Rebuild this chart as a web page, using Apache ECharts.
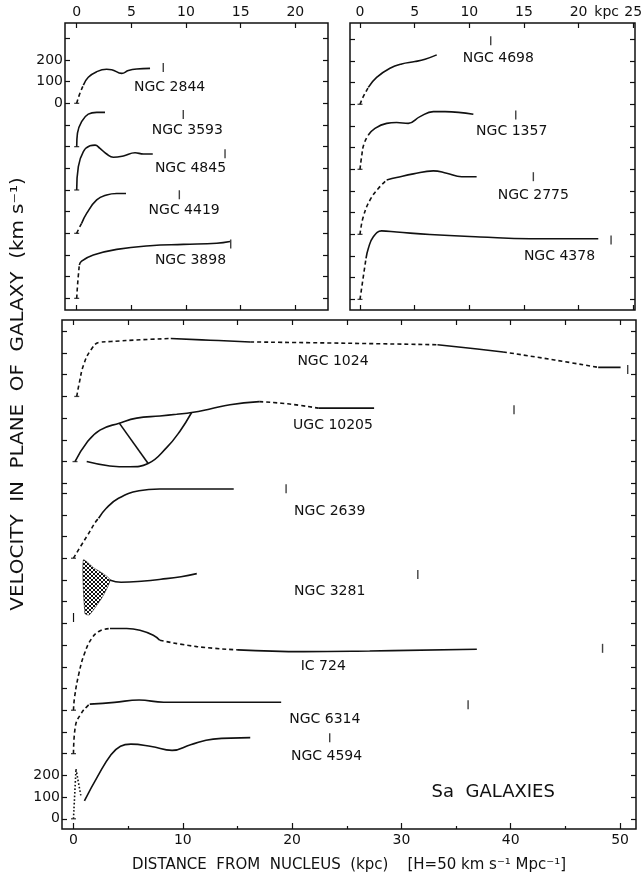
<!DOCTYPE html>
<html>
<head>
<meta charset="utf-8">
<title>Sa galaxies rotation curves</title>
<script src="https://cdn.jsdelivr.net/npm/echarts@6.0.0/dist/echarts.min.js"></script>
<style>
html,body{margin:0;padding:0;background:#fff;}
#chart{width:643px;height:877px;}
</style>
</head>
<body>
<div id="chart"></div>
<script>
// ---------------- tick labels ----------------
const TOP_X_TICKS = [0, 5, 10, 15, 20];
const TOP_RIGHT_X_TICKS = [0, 5, 10, 15, 20, 25];
const TOP_RIGHT_X_LABELS = [0, 5, 10, 15, 20, 22.57, 25];   // 22.57 carries the unit "kpc"
const TOP_Y_TICKS = [-900, -800, -700, -600, -500, -400, -300, -200, -100, 0, 100, 200, 300];
const Y_LABELS = [0, 100, 200];
const MAIN_X_MAJOR = [0, 10, 20, 30, 40, 50];
const MAIN_X_MINOR = [5, 15, 25, 35, 45];
const MAIN_Y_TICKS = [0, 100, 200, 300, 400, 500, 600, 700, 800, 900, 1000, 1100, 1200, 1300, 1400, 1500,
                      1545, 1645, 1745, 1845, 1945, 2045, 2145, 2245];

// ---------------- top-left panel ----------------
const TL_NAMES = ['NGC 2844', 'NGC 3593', 'NGC 4845', 'NGC 4419', 'NGC 3898'];
const TL_ZERO = [0, -200, -400, -600, -900];
const TL_MARK_X = [7.92, 9.75, 13.57, 9.39, 14.09];
const TL_MARK_V = [165, 148, 167, 178, 251];
const TL_LABEL_AT = [[8.5, 74], [10.12, -123], [10.41, -300], [9.83, -492], [10.41, -723]];
const NGC2844 = [['dash', [[0, 0], [0.25, 40], [0.61, 84]]],
                 ['solid', [[0.61, 84], [1.06, 120], [1.83, 146], [2.74, 157], [3.2, 155], [4.12, 138], [4.73, 151], [5.49, 158], [6.71, 161]]]];
const NGC3593 = [['solid', [[0, 0], [0.07, 62], [0.45, 115], [1.06, 150], [1.83, 158], [2.59, 158]]]];
const NGC4845 = [['solid', [[0, 0], [0.15, 108], [0.61, 177], [1.22, 204], [1.68, 207], [2.13, 192], [2.74, 166], [3.35, 151], [4.27, 157], [5.34, 172], [6.1, 166], [6.96, 166]]]];
const NGC4419 = [['dash', [[0, 0], [0.2, 22], [0.45, 46]]],
                 ['solid', [[0.45, 46], [0.91, 92], [1.83, 154], [2.74, 177], [3.66, 184], [4.51, 184]]]];
const NGC3898 = [['dash', [[0, 0], [0.09, 69], [0.24, 154]]],
                 ['solid', [[0.24, 154], [0.45, 172], [1.52, 200], [3.66, 226], [6.71, 243], [9.76, 249], [12.81, 254], [14.03, 262]]]];
const TL_CURVES = [NGC2844, NGC3593, NGC4845, NGC4419, NGC3898];

// ---------------- top-right panel ----------------
const TR_NAMES = ['NGC 4698', 'NGC 1357', 'NGC 2775', 'NGC 4378'];
const TR_ZERO = [0, -300, -600, -900];
const TR_MARK_X = [11.96, 14.25, 15.86, 22.97];
const TR_MARK_V = [293, 251, 266, 274];
const TR_LABEL_AT = [[12.65, 212], [13.88, -126], [15.86, -422], [18.25, -700]];
const NGC4698 = [['dash', [[0, 0], [0.3, 35], [0.76, 78]]],
                 ['solid', [[0.76, 78], [1.52, 124], [2.74, 166], [3.81, 186], [5.03, 197], [5.95, 208], [7.02, 228]]]];
const NGC1357 = [['dash', [[0, 0], [0.15, 60], [0.35, 115], [0.76, 158]]],
                 ['solid', [[0.76, 158], [1.37, 189], [2.44, 212], [3.35, 216], [4.42, 212], [5.49, 243], [6.71, 266], [7.78, 266], [10.37, 254]]]];
const NGC2775 = [['dash', [[0, 0], [0.3, 81], [0.91, 158], [1.68, 212], [2.44, 251]]],
                 ['solid', [[2.44, 251], [3.35, 262], [4.88, 279], [6.71, 293], [7.93, 282], [9.3, 266], [10.67, 266]]]];
const NGC4378 = [['dash', [[0, 0], [0.3, 104], [0.55, 189]]],
                 ['solid', [[0.55, 189], [0.76, 235], [1.22, 289], [1.98, 316], [3.35, 311], [6.4, 299], [10.98, 288], [15.55, 280], [21.8, 280]]]];
const TR_CURVES = [NGC4698, NGC1357, NGC2775, NGC4378];

// ---------------- main panel ----------------
const M_NAMES = ['NGC 1024', 'UGC 10205', 'NGC 2639', 'NGC 3281', 'IC 724', 'NGC 6314', 'NGC 4594'];
const M_ZERO = [1945, 1645, 1200, 900, 500, 300, 0];
const M_START_X = [0.3, 0.14, 0, null, 0, 0, 0];
const M_MARK_X = [50.7, 40.3, 19.45, 31.5, 48.4, 36.1, 23.44];
const M_MARK_V = [124, 239, 320, 225, 285, 225, 373];
const M_LABEL_AT = [[23.74, 2105], [23.74, 1814], [23.44, 1415], [23.44, 1046], [22.85, 704], [22.99, 459], [23.15, 287]];
const NGC1024 = [['dash', [[0.3, 0], [0.53, 62], [0.93, 146], [1.6, 215], [2.36, 249], [3.43, 253], [6.18, 261], [8.9, 267]]],
                 ['solid', [[8.9, 267], [12.5, 259], [16.17, 251]]],
                 ['dash', [[16.17, 251], [25, 245], [33.3, 238]]],
                 ['solid', [[33.3, 238], [36.3, 222], [39.3, 205]]],
                 ['dash', [[39.3, 205], [44, 168], [48, 134]]],
                 ['solid', [[48, 134], [50.05, 134]]]];
const UGC10205 = [['solid', [[0.14, 0], [1.21, 87], [2.42, 145], [4.19, 177], [5.78, 200], [7.91, 210], [9.44, 218], [10.81, 226], [12.49, 242], [14.32, 262], [17.0, 276]]],
                  ['dash', [[17.0, 276], [19.6, 266], [22.4, 246]]],
                  ['solid', [[22.4, 246], [27.5, 246]]],
                  ['solid', [[1.21, 0], [3.32, -20], [5.15, -24], [6.83, -9], [8.52, 64], [9.74, 140], [10.81, 226]]],
                  ['straight', [[4.19, 177], [6.83, -9]]]];
const NGC2639 = [['dash', [[0, 0], [0.73, 61], [1.3, 107], [2.05, 169], [2.3, 184]]],
                 ['solid', [[2.3, 184], [3.0, 230], [4.12, 276], [6.0, 311], [7.88, 319], [14.66, 319]]]];
const NGC3281 = [['solid', [[3.3, 200], [4.35, 189], [6.48, 195], [8.0, 203], [9.84, 215], [11.28, 229]]]];
const NGC3281_HATCH = [[0.9, 292], [1.9, 254], [2.66, 231], [3.35, 200], [2.66, 123], [1.45, 39], [1.05, 45]];
const IC724 = [['dash', [[0, 0], [0.1, 60], [0.5, 170], [1.0, 260], [1.66, 330], [2.4, 365], [3.34, 376]]],
               ['solid', [[3.34, 376], [4.87, 376], [6.08, 368], [7.3, 345], [7.89, 322]]],
               ['dash', [[7.89, 322], [11.28, 293], [15.04, 278]]],
               ['solid', [[15.04, 278], [21.06, 270], [27.1, 273], [36.9, 281]]]];
const NGC6314 = [['dash', [[0, 0], [0.17, 125], [0.73, 187], [1.3, 220], [1.49, 228]]],
                 ['solid', [[1.49, 228], [3.75, 236], [6.0, 247], [8.26, 237], [12.03, 237], [19.0, 237]]]];
const NGC4594 = [['dot', [[0, 0], [0.23, 229]]],
                 ['dot', [[0.23, 229], [0.69, 102]]],
                 ['solid', [[1.0, 83], [2.21, 195], [3.43, 295], [4.3, 334], [5.25, 344], [7.13, 333], [9.02, 315], [10.71, 341], [12.78, 367], [16.17, 374]]]];
const M_CURVES = [NGC1024, UGC10205, NGC2639, NGC3281, IC724, NGC6314, NGC4594];

// ---------------- styling ----------------
const FONT = 'DejaVu Sans';
const INK = '#111111';

function hatchPattern() {
  const c = document.createElement('canvas');
  c.width = 4; c.height = 4;
  const g = c.getContext('2d');
  g.strokeStyle = INK; g.lineWidth = 1;
  g.beginPath();
  g.moveTo(0, 0); g.lineTo(4, 4);
  g.moveTo(4, 0); g.lineTo(0, 4);
  g.stroke();
  return c;
}

function xAx(gridIndex, position, min, max, ticks, tickLen, labels, fmt, extra) {
  return Object.assign({
    type: 'value', gridIndex, position, min, max, offset: 0,
    axisLine: { show: false, onZero: false },
    splitLine: { show: false },
    axisTick: { show: true, inside: true, length: tickLen, customValues: ticks, lineStyle: { color: INK, width: 1.2 } },
    axisLabel: labels ? { show: true, customValues: labels, color: INK, fontSize: 14, fontFamily: FONT, margin: 4,
                          formatter: fmt || (v => String(v)) } : { show: false }
  }, extra || {});
}
function yAx(gridIndex, position, min, max, ticks, labels) {
  return {
    type: 'value', gridIndex, position, min, max, offset: 0,
    axisLine: { show: false, onZero: false },
    splitLine: { show: false },
    axisTick: { show: true, inside: true, length: 5, customValues: ticks, lineStyle: { color: INK, width: 1.2 } },
    axisLabel: labels ? { show: true, customValues: labels, color: INK, fontSize: 14, fontFamily: FONT, margin: 2 } : { show: false }
  };
}

const gridBase = { show: true, borderColor: INK, borderWidth: 1.5, backgroundColor: 'transparent', containLabel: false, outerBoundsMode: 'none' };
const grids = [
  Object.assign({ left: 65, top: 23, width: 263, height: 287 }, gridBase),
  Object.assign({ left: 350, top: 23, width: 285, height: 287 }, gridBase),
  Object.assign({ left: 62, top: 320, width: 574, height: 509 }, gridBase)
];

const TL_X = [-1.07, 22.99], TL_Y = [-953.8, 370.6];
const TR_X = [-0.915, 25.16], TR_Y = [-949, 375];
const M_X = [-1.05, 51.46], M_Y = [-47, 2297];

// axis indices: top-left uses x0/y0, top-right x2/y2, main x4/y4
const xAxes = [
  xAx(0, 'bottom', TL_X[0], TL_X[1], TOP_X_TICKS, 5, null),
  xAx(0, 'top', TL_X[0], TL_X[1], TOP_X_TICKS, 5, TOP_X_TICKS),
  xAx(1, 'bottom', TR_X[0], TR_X[1], TOP_RIGHT_X_TICKS, 5, null),
  xAx(1, 'top', TR_X[0], TR_X[1], TOP_RIGHT_X_TICKS, 5, TOP_RIGHT_X_LABELS,
      v => (Math.abs(v - 22.57) < 0.01 ? 'kpc' : String(v))),
  xAx(2, 'bottom', M_X[0], M_X[1], MAIN_X_MAJOR, 6, MAIN_X_MAJOR, null, {
    name: 'DISTANCE  FROM  NUCLEUS  (kpc)    [H=50 km s\u207B\u00B9 Mpc\u207B\u00B9]',
    nameLocation: 'middle', nameGap: 29,
    nameTextStyle: { color: INK, fontSize: 15, fontFamily: FONT }
  }),
  xAx(2, 'bottom', M_X[0], M_X[1], MAIN_X_MINOR, 3, null),
  xAx(2, 'top', M_X[0], M_X[1], MAIN_X_MAJOR.concat(MAIN_X_MINOR), 5, null)
];
const yAxes = [
  yAx(0, 'left', TL_Y[0], TL_Y[1], TOP_Y_TICKS, Y_LABELS),
  yAx(0, 'right', TL_Y[0], TL_Y[1], TOP_Y_TICKS, null),
  yAx(1, 'left', TR_Y[0], TR_Y[1], TOP_Y_TICKS, null),
  yAx(1, 'right', TR_Y[0], TR_Y[1], TOP_Y_TICKS, null),
  yAx(2, 'left', M_Y[0], M_Y[1], MAIN_Y_TICKS, Y_LABELS),
  yAx(2, 'right', M_Y[0], M_Y[1], MAIN_Y_TICKS, null)
];

const series = [];
function addCurve(segs, base, ai) {
  segs.forEach(([kind, pts]) => {
    series.push({
      type: 'line', xAxisIndex: ai, yAxisIndex: ai, silent: true, animation: false,
      symbol: 'none', showSymbol: false,
      smooth: kind === 'straight' ? false : 0.45,
      data: pts.map(p => [p[0], p[1] + base]),
      lineStyle: { color: INK, width: 1.6, type: kind === 'dash' ? [4, 3] : kind === 'dot' ? [1.6, 2] : 'solid' },
      z: 3
    });
  });
}
function addMarks(xs, vs, zeros, ai) {
  series.push({
    type: 'scatter', xAxisIndex: ai, yAxisIndex: ai, silent: true, animation: false,
    symbol: 'rect', symbolSize: [1.4, 9], itemStyle: { color: INK },
    data: xs.map((x, i) => [x, vs[i] + zeros[i]]), z: 4
  });
}
function addBases(starts, zeros, ai) {
  series.push({
    type: 'scatter', xAxisIndex: ai, yAxisIndex: ai, silent: true, animation: false,
    symbol: 'rect', symbolSize: [5, 1.3], itemStyle: { color: INK },
    data: zeros.map((z, i) => starts[i] == null ? null : [starts[i], z]).filter(d => d), z: 4
  });
}
function addLabels(names, at, ai, size) {
  series.push({
    type: 'scatter', xAxisIndex: ai, yAxisIndex: ai, silent: true, animation: false,
    symbol: 'circle', symbolSize: 0.1, itemStyle: { color: 'rgba(0,0,0,0)' },
    data: names.map((n, i) => ({ name: n, value: at[i] })),
    label: { show: true, position: 'inside', formatter: '{b}', color: INK, fontSize: size || 14, fontFamily: FONT,
             textBorderWidth: 0, opacity: 1 },
    z: 5
  });
}

const A = 0, B = 2, M = 4;
TL_CURVES.forEach((c, i) => addCurve(c, TL_ZERO[i], A));
addMarks(TL_MARK_X, TL_MARK_V, TL_ZERO, A);
addBases(TL_ZERO.map(() => 0), TL_ZERO, A);
addLabels(TL_NAMES, TL_LABEL_AT, A);

TR_CURVES.forEach((c, i) => addCurve(c, TR_ZERO[i], B));
addMarks(TR_MARK_X, TR_MARK_V, TR_ZERO, B);
addBases(TR_ZERO.map(() => 0), TR_ZERO, B);
addLabels(TR_NAMES, TR_LABEL_AT, B);

M_CURVES.forEach((c, i) => addCurve(c, M_ZERO[i], M));
addMarks(M_MARK_X, M_MARK_V, M_ZERO, M);
addBases(M_START_X, M_ZERO, M);
addLabels(M_NAMES, M_LABEL_AT, M);
addLabels(['Sa  GALAXIES'], [[38.4, 123]], M, 18);
addLabels(['I'], [[0, 921]], M, 12);

// hatched region of NGC 3281
const pattern = hatchPattern();
const hatchAbs = NGC3281_HATCH.map(p => [p[0], p[1] + M_ZERO[3]]);
series.push({
  type: 'custom', xAxisIndex: M, yAxisIndex: M, silent: true, animation: false,
  data: hatchAbs,
  renderItem: (params, api) => {
    if (params.dataIndex !== 0) return null;
    const pts = hatchAbs.map(p => api.coord(p));
    return { type: 'polygon', shape: { points: pts, smooth: 0.2 },
             style: { fill: { image: pattern, repeat: 'repeat' }, stroke: INK, lineWidth: 0.5 } };
  },
  z: 2
});

const chart = echarts.init(document.getElementById('chart'), null, { renderer: 'canvas' });
chart.setOption({
  animation: false,
  backgroundColor: '#fff',
  grid: grids,
  xAxis: xAxes,
  yAxis: yAxes,
  series,
  graphic: [{
    type: 'text', x: 19, y: 394, rotation: Math.PI / 2, scaleX: 1.17,
    style: { text: 'VELOCITY  IN  PLANE  OF  GALAXY  (km s\u207B\u00B9)', font: '17px "DejaVu Sans"',
             fill: INK, textAlign: 'center', textVerticalAlign: 'middle', align: 'center', verticalAlign: 'middle' }
  }]
});
</script>
</body>
</html>
